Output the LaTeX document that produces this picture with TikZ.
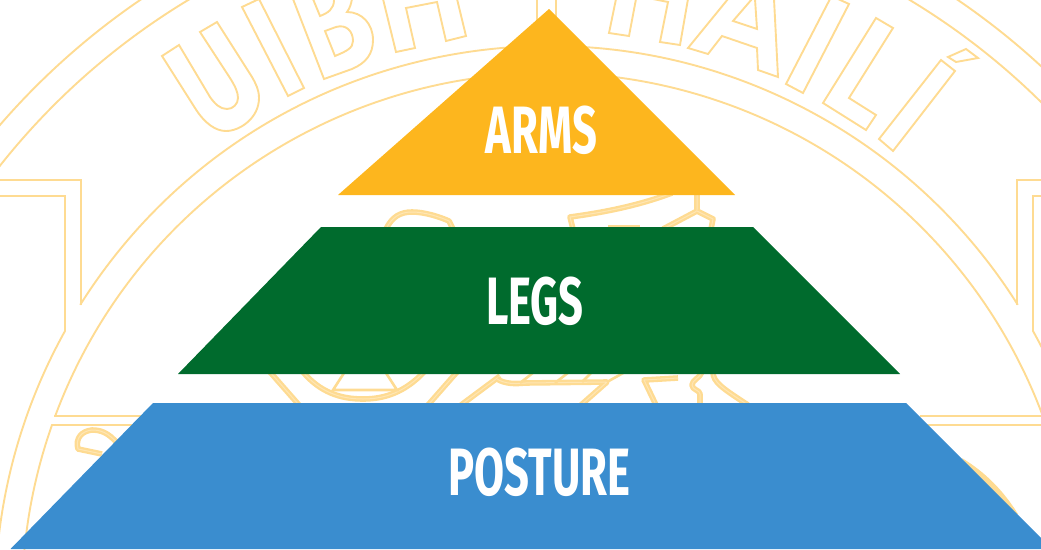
\documentclass[tikz,border=0pt]{standalone}
\usepackage{fontspec}
\newfontfamily\labelfont{Fira Sans}
\definecolor{CrestLine}{HTML}{FEDB92}
\definecolor{CrestPale}{HTML}{FEE6B4}
\definecolor{ArmsYellow}{HTML}{FDB61E}
\definecolor{LegsGreen}{HTML}{006B2D}
\definecolor{PostureBlue}{HTML}{3A8DCF}
\tikzset{
  crest/.style={draw=CrestLine,line width=1.9pt,line join=miter},
  band/.style={draw=CrestLine,line width=2.3pt,double=CrestPale,double distance=1pt,line join=round},
  tier/.style={text=white,font=\labelfont\bfseries\fontsize{67}{67}\selectfont,inner sep=0pt,anchor=base,xscale=0.65}
}

\begin{document}
\begin{tikzpicture}[x=1pt,y=1pt,yscale=-1]
  \useasboundingbox (0,0) rectangle (1041,549);
  \clip (0,0) rectangle (1041,549);
  \coordinate (Hub) at (549,600);

  % rings
  \draw [crest] (Hub) circle [radius=726];
  \draw [crest] (Hub) circle [radius=700];
  \draw [crest] (Hub) ++(212.2:554) arc [start angle=212.2,end angle=327.8,radius=554];
  \draw [crest] (Hub) ++(200.4:527) arc [start angle=200.4,end angle=339.6,radius=527];

  % ribbons, same on both sides
  \foreach \side in {1,-1}{%
    \begin{scope}[xshift=549pt,xscale=\side]
      \draw [crest] (-560,180) -- (-468,180) -- (-468,305);
      \draw [crest] (-560,196) -- (-484,196) -- (-484,331)
        arc [start angle=209.1,end angle=185,radius=554];
      \draw [crest] (-495,416) -- (-371,416);
      \draw [crest] (-371,425) -- (-497,425)
        arc [start angle=199.4,end angle=185,radius=527];
    \end{scope}
  }

  % letters of the crest
  \draw [crest] (162,56) -- (195,108) .. controls (205,124) and (216,131) .. (226,131)
    .. controls (240,131) and (259,118) .. (259,98) .. controls (259,90) and (256,84) .. (252,77)
    -- (217,22) -- (200,32) -- (230,78) .. controls (235,86) and (238,92) .. (238,98)
    .. controls (238,104) and (233,109) .. (227,109) .. controls (220,109) and (215,104) .. (210,97)
    -- (179,45) -- cycle;
  \draw [crest] (242,7) -- (259,-1) -- (304,88) -- (288,96) -- cycle;
  \draw [crest] (293,-1) -- (324,79) -- (352,69) .. controls (366,63) and (373,54) .. (373,40)
    .. controls (373,24) and (362,12) .. (347,12) .. controls (350,8) and (351,4) .. (352,-1);
  \draw [crest] (325,31) -- (336,27) .. controls (346,24) and (353,31) .. (353,41)
    .. controls (353,48) and (347,51) .. (335,56) -- cycle;
  \draw [crest] (313,-1) -- (320,16) .. controls (328,13) and (334,9) .. (334,0);
  \draw [crest] (383,-1) -- (396,52) -- (415,48) -- (406,8) -- (437,2) -- (446,41) -- (466,36) -- (457,-1);
  \draw [crest] (537,-1) -- (537,40);
  \draw [crest] (556,-1) -- (556,40);
  \draw [crest] (616,-1) -- (609,33) -- (629,36) -- (636,-1);
  \draw [crest] (653,-1) -- (668,2) -- (660,42) -- (680,45) -- (688,-1);
  \draw [crest] (728,-1) -- (688,48) -- (708,54) -- (722,36) -- (757,48) -- (758,70) -- (778,77) -- (774,-1);
  \draw [crest] (752,-1) -- (733,21) -- (757,29) -- (755,-1);
  \draw [crest] (830,-1) -- (786,84) -- (803,93) -- (849,4) -- (838,-1);
  \draw [crest] (876,18) -- (893,28) -- (849,98) -- (876,115) -- (866,130) -- (823,103) -- cycle;
  \draw [crest] (941,60) -- (955,71) -- (893,151) -- (879,139) -- cycle;
  \draw [crest] (948,57) -- (966,49) -- (978,58) -- (956,62) -- cycle;

  % emblem, what shows between the tiers
  \draw [band] (386,229) .. controls (392,217) and (400,212) .. (412,212)
    .. controls (425,212) and (440,217) .. (449,221) -- (453,229);
  \draw [band] (672,193) .. controls (640,205) and (607,212) .. (570,217) -- (573,229);
  \draw [band] (697,193) -- (697,211) -- (663,229);
  \draw [band] (697,211) -- (713,219) -- (711,229);
  \fill [CrestLine] (608,225) rectangle (640,229);

  \draw [band] (270,372) -- (299,405);
  \draw [band] (303,372) .. controls (320,392) and (340,399) .. (363,399)
    .. controls (385,399) and (405,392) .. (424,372);
  \draw [crest,line width=2.6pt] (344,373) -- (333,390) -- (397,390) -- (386,373);
  \draw [band] (457,372) -- (428,405);
  \draw [band] (500,376) -- (461,405);
  \draw [band] (497,379) .. controls (505,384) and (515,384) .. (525,383) -- (607,382) -- (581,405);
  \draw [crest,line width=2.6pt] (607,382) -- (625,372);
  \draw [crest,line width=2.6pt] (520,383) -- (534,372);
  \draw [crest,line width=2.6pt] (555,383) -- (569,372);
  \draw [crest,line width=2.6pt] (582,382) -- (592,372);
  \draw [band] (656,405) -- (644,380) -- (678,378);
  \draw [band] (702,372) .. controls (700,378) and (692,380) .. (692,385)
    .. controls (692,390) and (700,390) .. (700,394) -- (700,405);
  \draw [band] (713,372) .. controls (713,382) and (722,388) .. (748,405);
  \draw [band] (118,444) .. controls (108,432) and (100,430) .. (92,430)
    .. controls (82,431) and (75,438) .. (78,449) -- (102,454);
  \fill [CrestLine] (962,458) .. controls (985,472) and (1003,490) .. (1018,514) -- (1000,514) -- cycle;

  % tiers
  \fill [ArmsYellow] (549,9) -- (735,195) -- (338,195) -- cycle;
  \fill [LegsGreen] (321,227) -- (753,227) -- (900,374) -- (178,374) -- cycle;
  \fill [PostureBlue] (153,403) -- (906,403) -- (1052,549) -- (10.5,549) -- cycle;

  \node [tier] (arms) at (541.5,153) {ARMS};
  \node [tier] (legs) at (535,324) {LEGS};
  \node [tier] (posture) at (539.5,495) {POSTURE};
\end{tikzpicture}
\end{document}
